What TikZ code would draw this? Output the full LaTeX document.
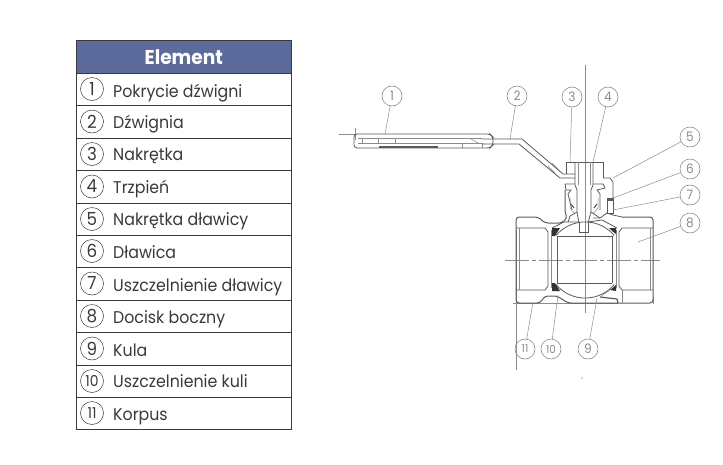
\documentclass[tikz,border=0pt]{standalone}
\usepackage{fontspec}
\setmainfont{Poppins}[FakeStretch=0.93]
\definecolor{headblue}{HTML}{5C6B9C}
\definecolor{rowink}{HTML}{3A3A3A}
\definecolor{valveink}{HTML}{5A5A5A}
\definecolor{leadink}{HTML}{8C8C8C}
\definecolor{seatink}{HTML}{333333}
\tikzset{
  rowbox/.style={draw=rowink,line width=0.7pt,minimum width=215pt,minimum height=32.4pt,inner sep=0pt,anchor=north west},
  numcirc/.style={draw=rowink,circle,line width=0.5pt,minimum size=23pt,inner sep=0pt,text=rowink,font=\fontsize{18}{18}\selectfont},
  rowtext/.style={anchor=base west,inner sep=0pt,text=rowink,font=\fontsize{17}{18}\selectfont},
  callout/.style={draw=leadink,circle,line width=0.6pt,minimum size=20pt,inner sep=0pt,text=leadink,font=\fontsize{13}{13}\selectfont},
  leader/.style={draw=leadink,line width=0.5pt},
  valve/.style={draw=valveink,line width=0.8pt},
  thinline/.style={draw=valveink!70,line width=0.5pt},
  axisline/.style={draw=leadink,line width=0.5pt}
}
\begin{document}
\begin{tikzpicture}[x=1pt,y=-1pt]
\useasboundingbox (0,0) rectangle (723,464);
\fill[white] (0,0) rectangle (723,464);
% table
\node[rowbox,fill=headblue,minimum height=33pt,text=white,font=\bfseries\fontsize{20}{20}\selectfont] (head) at (76,40) {Element};
\node[rowbox] (row1) at (76,73) {};
\node[rowbox] (row2) at (76,105.4) {};
\node[rowbox] (row3) at (76,137.8) {};
\node[rowbox] (row4) at (76,170.2) {};
\node[rowbox] (row5) at (76,202.6) {};
\node[rowbox] (row6) at (76,235) {};
\node[rowbox] (row7) at (76,267.4) {};
\node[rowbox] (row8) at (76,299.8) {};
\node[rowbox] (row9) at (76,332.2) {};
\node[rowbox] (row10) at (76,364.6) {};
\node[rowbox] (row11) at (76,397) {};
\node[numcirc] (num1) at (92,89) {1};
\node[numcirc] (num2) at (92,121.5) {2};
\node[numcirc] (num3) at (92,154) {3};
\node[numcirc] (num4) at (92,186.5) {4};
\node[numcirc] (num5) at (92,219) {5};
\node[numcirc] (num6) at (92,251) {6};
\node[numcirc] (num7) at (92,283.5) {7};
\node[numcirc] (num8) at (92,316) {8};
\node[numcirc] (num9) at (92,348.5) {9};
\node[numcirc,font=\fontsize{15}{15}\selectfont] (num10) at (92,381) {10};
\node[numcirc,font=\fontsize{15}{15}\selectfont] (num11) at (92,413) {11};
\node[rowtext] (txt1) at (113,97) {Pokrycie dźwigni};
\node[rowtext] (txt2) at (113,128) {Dźwignia};
\node[rowtext] (txt3) at (113,160) {Nakrętka};
\node[rowtext] (txt4) at (113,193) {Trzpień};
\node[rowtext] (txt5) at (113,225) {Nakrętka dławicy};
\node[rowtext] (txt6) at (113,258) {Dławica};
\node[rowtext] (txt7) at (113,291) {Uszczelnienie dławicy};
\node[rowtext] (txt8) at (113,323) {Docisk boczny};
\node[rowtext] (txt9) at (113,356) {Kula};
\node[rowtext] (txt10) at (113,387) {Uszczelnienie kuli};
\node[rowtext] (txt11) at (113,420) {Korpus};
% axes
\draw[axisline] (585,65) -- (585,313);
\draw[axisline,dash pattern=on 24pt off 3pt on 4pt off 3pt] (505,260) -- (660,260);
\draw[axisline] (516,230) -- (516,370);
\draw[axisline] (513,303) -- (618,303);
\draw[axisline] (653,297) -- (653,304);
\draw[axisline] (339,134) -- (356,134);
\draw[axisline] (355,128) -- (355,140);
\fill[valveink] (582,378) circle (0.7pt);
% lever sleeve
\draw[valve,rounded corners=3pt] (354,134) -- (490,134) -- (493,137) -- (493,145) -- (490,148) -- (354,148) -- cycle;
\draw[thinline] (358,138.5) -- (482,138.5);
\draw[thinline] (358,143.5) -- (482,143.5) -- (482,148);
\draw[thinline] (362,138.5) -- (362,143.5);
\draw[thinline] (378,138.5) -- (378,143.5);
\draw[thinline] (395,138.5) -- (395,143.5);
\draw[valve,line width=1.3pt] (379,147) -- (438,147);
\draw[thinline] (462,144) -- (462,148);
\draw[thinline] (471,139) -- (480,144);
% lever arm
\draw[valve] (482,139) -- (522,139) -- (563,174) -- (575,174);
\draw[valve] (482,144) -- (519,144) -- (560,178) -- (575,178);
\draw[thinline] (548,166) -- (555,173);
\draw[thinline] (552,163) -- (559,170);
% nut and stem
\draw[valve] (566,174) -- (566,162) -- (603,162) -- (603,178);
\draw[valve] (575,162) -- (575,185) -- (577,190) -- (577,212) -- (579,223);
\draw[valve] (593,162) -- (593,185) -- (591,190) -- (591,212) -- (588,223);
\draw[thinline] (578,162) -- (578,185);
\draw[thinline] (590,162) -- (590,185);
\draw[valve] (579,223) -- (579,232) -- (588,232) -- (588,223);
% gland nut
\draw[valve] (603,178) -- (610,178) -- (613,182) -- (613,198);
\draw[valve] (593,184) -- (603,184) -- (605,188) -- (597,190) -- (600,194) -- (600,210);
\draw[valve] (575,184) -- (565,184) -- (566,190) -- (571,190) -- (568,194) -- (572,210);
\draw[thinline] (570,198) -- (570,208) -- (575,214);
\draw[thinline] (598,198) -- (598,208) -- (593,214);
\draw[valve,line width=1.1pt] (571,204) -- (574,208);
\draw[valve,line width=1.1pt] (597,204) -- (594,208);
% gland and packing
\draw[valve] (607,198) rectangle (613,213);
\draw[valve,fill=valveink] (607,198) rectangle (613,200);
\draw[valve] (593,218) -- (600,218) -- (607,213) -- (613,215) -- (622,217);
\draw[valve] (577,212) -- (570,216) -- (568,222);
\draw[valve] (591,212) -- (600,218);
% body
\draw[valve,line width=1pt,rounded corners=3pt] (565,190) -- (565,212) -- (567,218) -- (562,223) -- (545,223) -- (538,217) -- (516,217) -- (516,303) -- (540,303) -- (545,296) -- (557,296) -- (568,303) -- (653,303) -- (653,217) -- (622,217);
\draw[valve] (516,228) -- (545,228) -- (548,232) -- (548,286) -- (545,290) -- (516,290);
\draw[valve] (653,228) -- (622,228) -- (619,232) -- (619,286) -- (622,290) -- (653,290);
\draw[thinline] (519,228) -- (519,290);
\draw[thinline] (650,228) -- (650,290);
\draw[thinline] (551,230) -- (551,288);
\draw[thinline] (616,230) -- (616,288);
\draw[valve] (552,228) -- (564,222) -- (579,222);
\draw[valve] (588,222) -- (602,220) -- (617,228);
\draw[valve,line width=1.2pt] (600,297) -- (617,299) -- (618,303);
\draw[thinline] (622,290) -- (622,303);
\draw[thinline] (610,290) -- (600,297);
% ball
\draw[valve] (556,235.5) arc[start angle=140,end angle=40,radius=38pt];
\draw[valve] (556,284.5) arc[start angle=220,end angle=320,radius=38pt];
\draw[valve] (557,236) -- (612,236);
\draw[valve] (557,283) -- (612,283);
\draw[valve] (557,236) -- (557,283);
\draw[valve] (612,236) -- (612,283);
% seats
\fill[seatink] (552,228) -- (560,228) -- (555,236) -- (552,236) -- cycle;
\fill[seatink] (552,283) -- (555,283) -- (560,291) -- (552,291) -- cycle;
\fill[seatink] (609,228) -- (616,228) -- (616,234) -- (612,231) -- cycle;
\fill[seatink] (610,290) -- (616,285) -- (616,291) -- cycle;
% callouts
\node[callout] (call1) at (392,96) {1};
\node[callout] (call2) at (517,96) {2};
\node[callout] (call3) at (572,97) {3};
\node[callout] (call4) at (608,97) {4};
\node[callout] (call5) at (690,137) {5};
\node[callout] (call6) at (690,169) {6};
\node[callout] (call7) at (690,195) {7};
\node[callout] (call8) at (690,223) {8};
\node[callout] (call9) at (588,349) {9};
\node[callout,font=\fontsize{11}{11}\selectfont] (call10) at (551,349) {10};
\node[callout,font=\fontsize{11}{11}\selectfont] (call11) at (525,349) {11};
\coordinate (tip1) at (385,134);
\coordinate (tip2) at (510,139);
\coordinate (tip3) at (570,162);
\coordinate (tip4) at (593,162);
\coordinate (tip5) at (613,178);
\coordinate (tip6) at (613,198);
\coordinate (tip7) at (613,210);
\coordinate (tip8) at (638,242);
\coordinate (tip9) at (597,298);
\coordinate (tip10) at (558,295);
\coordinate (tip11) at (533,302);
\draw[leader] (call1) -- (tip1);
\draw[leader] (call2) -- (tip2);
\draw[leader] (call3) -- (tip3);
\draw[leader] (call4) -- (tip4);
\draw[leader] (call5) -- (tip5);
\draw[leader] (call6) -- (tip6);
\draw[leader] (call7) -- (tip7);
\draw[leader] (call8) -- (tip8);
\draw[leader] (call9) -- (tip9);
\draw[leader] (call10) -- (tip10);
\draw[leader] (call11) -- (tip11);
\end{tikzpicture}
\end{document}
